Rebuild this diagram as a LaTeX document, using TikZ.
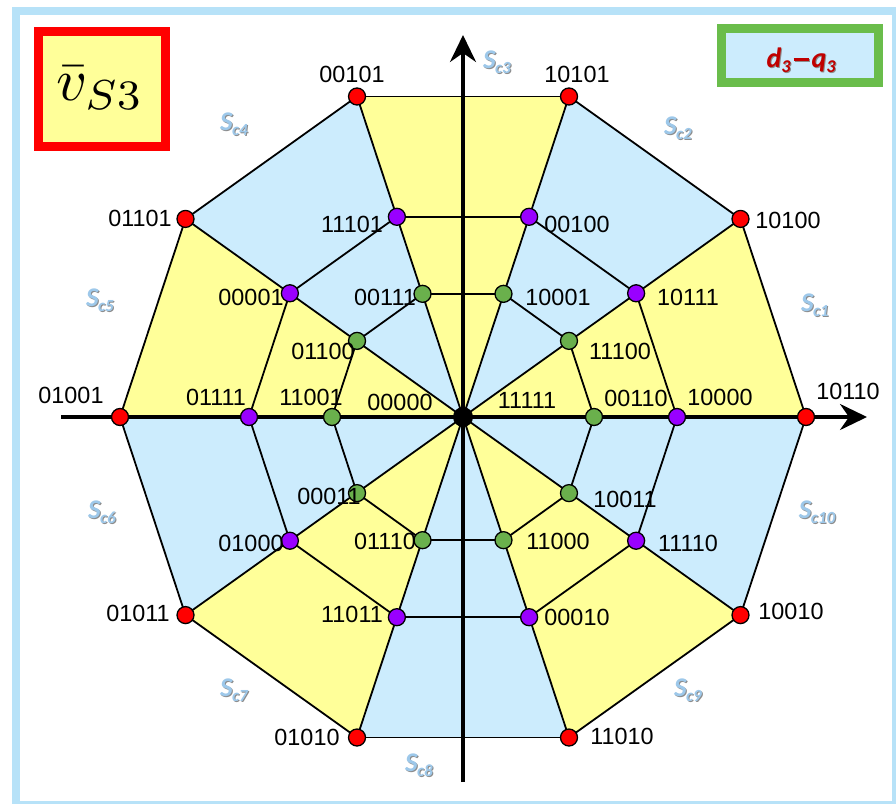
\documentclass[tikz,border=0pt]{standalone}
\usepackage[no-math]{fontspec}
\usepackage{graphicx}
\setmainfont{Liberation Sans}
\newfontfamily\carlito{Carlito}
\usetikzlibrary{arrows.meta}
\definecolor{fillY}{HTML}{FFFF99}
\definecolor{fillB}{HTML}{CCECFD}
\definecolor{frameB}{HTML}{B7E2F8}
\definecolor{ptR}{HTML}{FF0000}
\definecolor{ptP}{HTML}{9900FF}
\definecolor{ptG}{HTML}{6AB04C}
\definecolor{scB}{HTML}{9DC8EA}
\definecolor{dq}{HTML}{C00000}
\definecolor{boxG}{HTML}{6ABD4B}
\newcommand{\sclab}[1]{{\carlito\bfseries\itshape\fontsize{27}{27}\selectfont S\kern-0.5pt\raisebox{-5pt}{\fontsize{17}{17}\selectfont c#1}}}
\newcommand{\dqtext}{{\carlito\bfseries\itshape\fontsize{28}{28}\selectfont d\raisebox{-5pt}{\fontsize{18}{18}\selectfont 3}\kern3pt\raisebox{6.5pt}{\rule{15pt}{2.4pt}}\kern3pt q\raisebox{-5pt}{\fontsize{18}{18}\selectfont 3}}}
\tikzset{
  edge/.style={black, line width=1.8pt, line join=round},
  axis/.style={black, line width=3.5pt, -{Stealth[length=27pt,width=26pt,inset=9pt]}},
  dot/.style={circle, draw=black, line width=1.3pt, minimum size=17pt, inner sep=0pt},
  lbl/.style={inner sep=0pt, font=\fontsize{23.4}{24}\selectfont},
  scl/.style={inner sep=0pt, text=scB},
  scs/.style={inner sep=0pt, text=black!45},
}
\begin{document}
\begin{tikzpicture}[x=1pt,y=-1pt]
\useasboundingbox (0,0) rectangle (896,803);
\draw[frameB, line width=8pt] (16,11) rectangle (896,805);
\coordinate (O) at (463,417);
\foreach \k in {0,...,9} {
  \pgfmathsetmacro\a{36*\k}
  \coordinate (R\k) at ({463+343*cos(\a)},{417-337*sin(\a)});
  \coordinate (P\k) at ({463+214*cos(\a)},{417-210.5*sin(\a)});
  \coordinate (G\k) at ({463+131*cos(\a)},{417-129.5*sin(\a)});
}
\foreach \k/\n in {0/1,2/3,4/5,6/7,8/9}
  \fill[fillY] (O) -- (G\k) -- (P\k) -- (R\k) -- (R\n) -- (P\n) -- (G\n) -- cycle;
\foreach \k/\n in {1/2,3/4,5/6,7/8,9/0}
  \fill[fillB] (O) -- (G\k) -- (P\k) -- (R\k) -- (R\n) -- (P\n) -- (G\n) -- cycle;
\foreach \k/\n in {0/1,1/2,2/3,3/4,4/5,5/6,6/7,7/8,8/9,9/0} {
  \draw[edge] (R\k) -- (R\n);
  \draw[edge] (P\k) -- (P\n);
  \draw[edge] (G\k) -- (G\n);
  \draw[edge] (O) -- (R\k);
}
% axes
\coordinate (xL) at (61,417);
\coordinate (xR) at (867,417);
\coordinate (yB) at (463,782);
\coordinate (yT) at (463,35);
\draw[axis] (xL) -- (xR);
\draw[axis] (yB) -- (yT);
% points
\foreach \k in {0,...,9} {
  \node[dot, fill=ptR] (r\k) at (R\k) {};
  \node[dot, fill=ptP] (p\k) at (P\k) {};
  \node[dot, fill=ptG] (g\k) at (G\k) {};
}
\node[circle, fill=black, minimum size=20pt, inner sep=0pt] (o) at (O) {};
% vector labels
\foreach \x/\y/\t in {
  848/391/10110, 788/220/10100, 577/74/10101, 352/74/00101, 140/218/01101,
  71/395/01001, 138/613/01011, 307/737/01010, 622/736/11010, 791/611/10010,
  720/397/10000, 688/297/10111, 577/224/00100, 352/224/11101, 251/297/00001,
  216/397/01111, 251/543/01000, 688/543/11110, 352/614/11011, 577/617/00010,
  636/398/00110, 620/351/11100, 558/297/10001, 385/297/00111, 323/351/01100,
  311/397/11001, 329/496/00011, 385/541/01110, 558/541/11000, 625/499/10011,
  400/402/00000, 527/400/11111}
  \node[lbl] (L\t) at (\x,\y) {\t};
% sector labels
\foreach \x/\y/\i in {815/305/1, 678/128/2, 497/62/3, 234/124/4, 100/300/5,
  102/512/6, 234/690/7, 419/765/8, 688/690/9, 817/512/10} {
  \node[scs] (scs\i) at (\x+1,\y+1) {\sclab{\i}};
  \node[scl] (sc\i) at (\x,\y) {\sclab{\i}};
}
% title boxes
\draw[ptR, line width=9pt, fill=fillY] (38.5,31.5) rectangle (165.5,146.5);
\node[inner sep=0pt] (vs) at (100,88) {\scalebox{6}{$\bar{v}_{S3}$}};
\draw[boxG, line width=8.5pt, fill=fillB] (721.5,28.5) rectangle (878.5,82.5);
\node[inner sep=0pt, text=black!45] (dqs) at (802,61) {\dqtext};
\node[inner sep=0pt, text=dq] (dq) at (801,60) {\dqtext};
\end{tikzpicture}
\end{document}
